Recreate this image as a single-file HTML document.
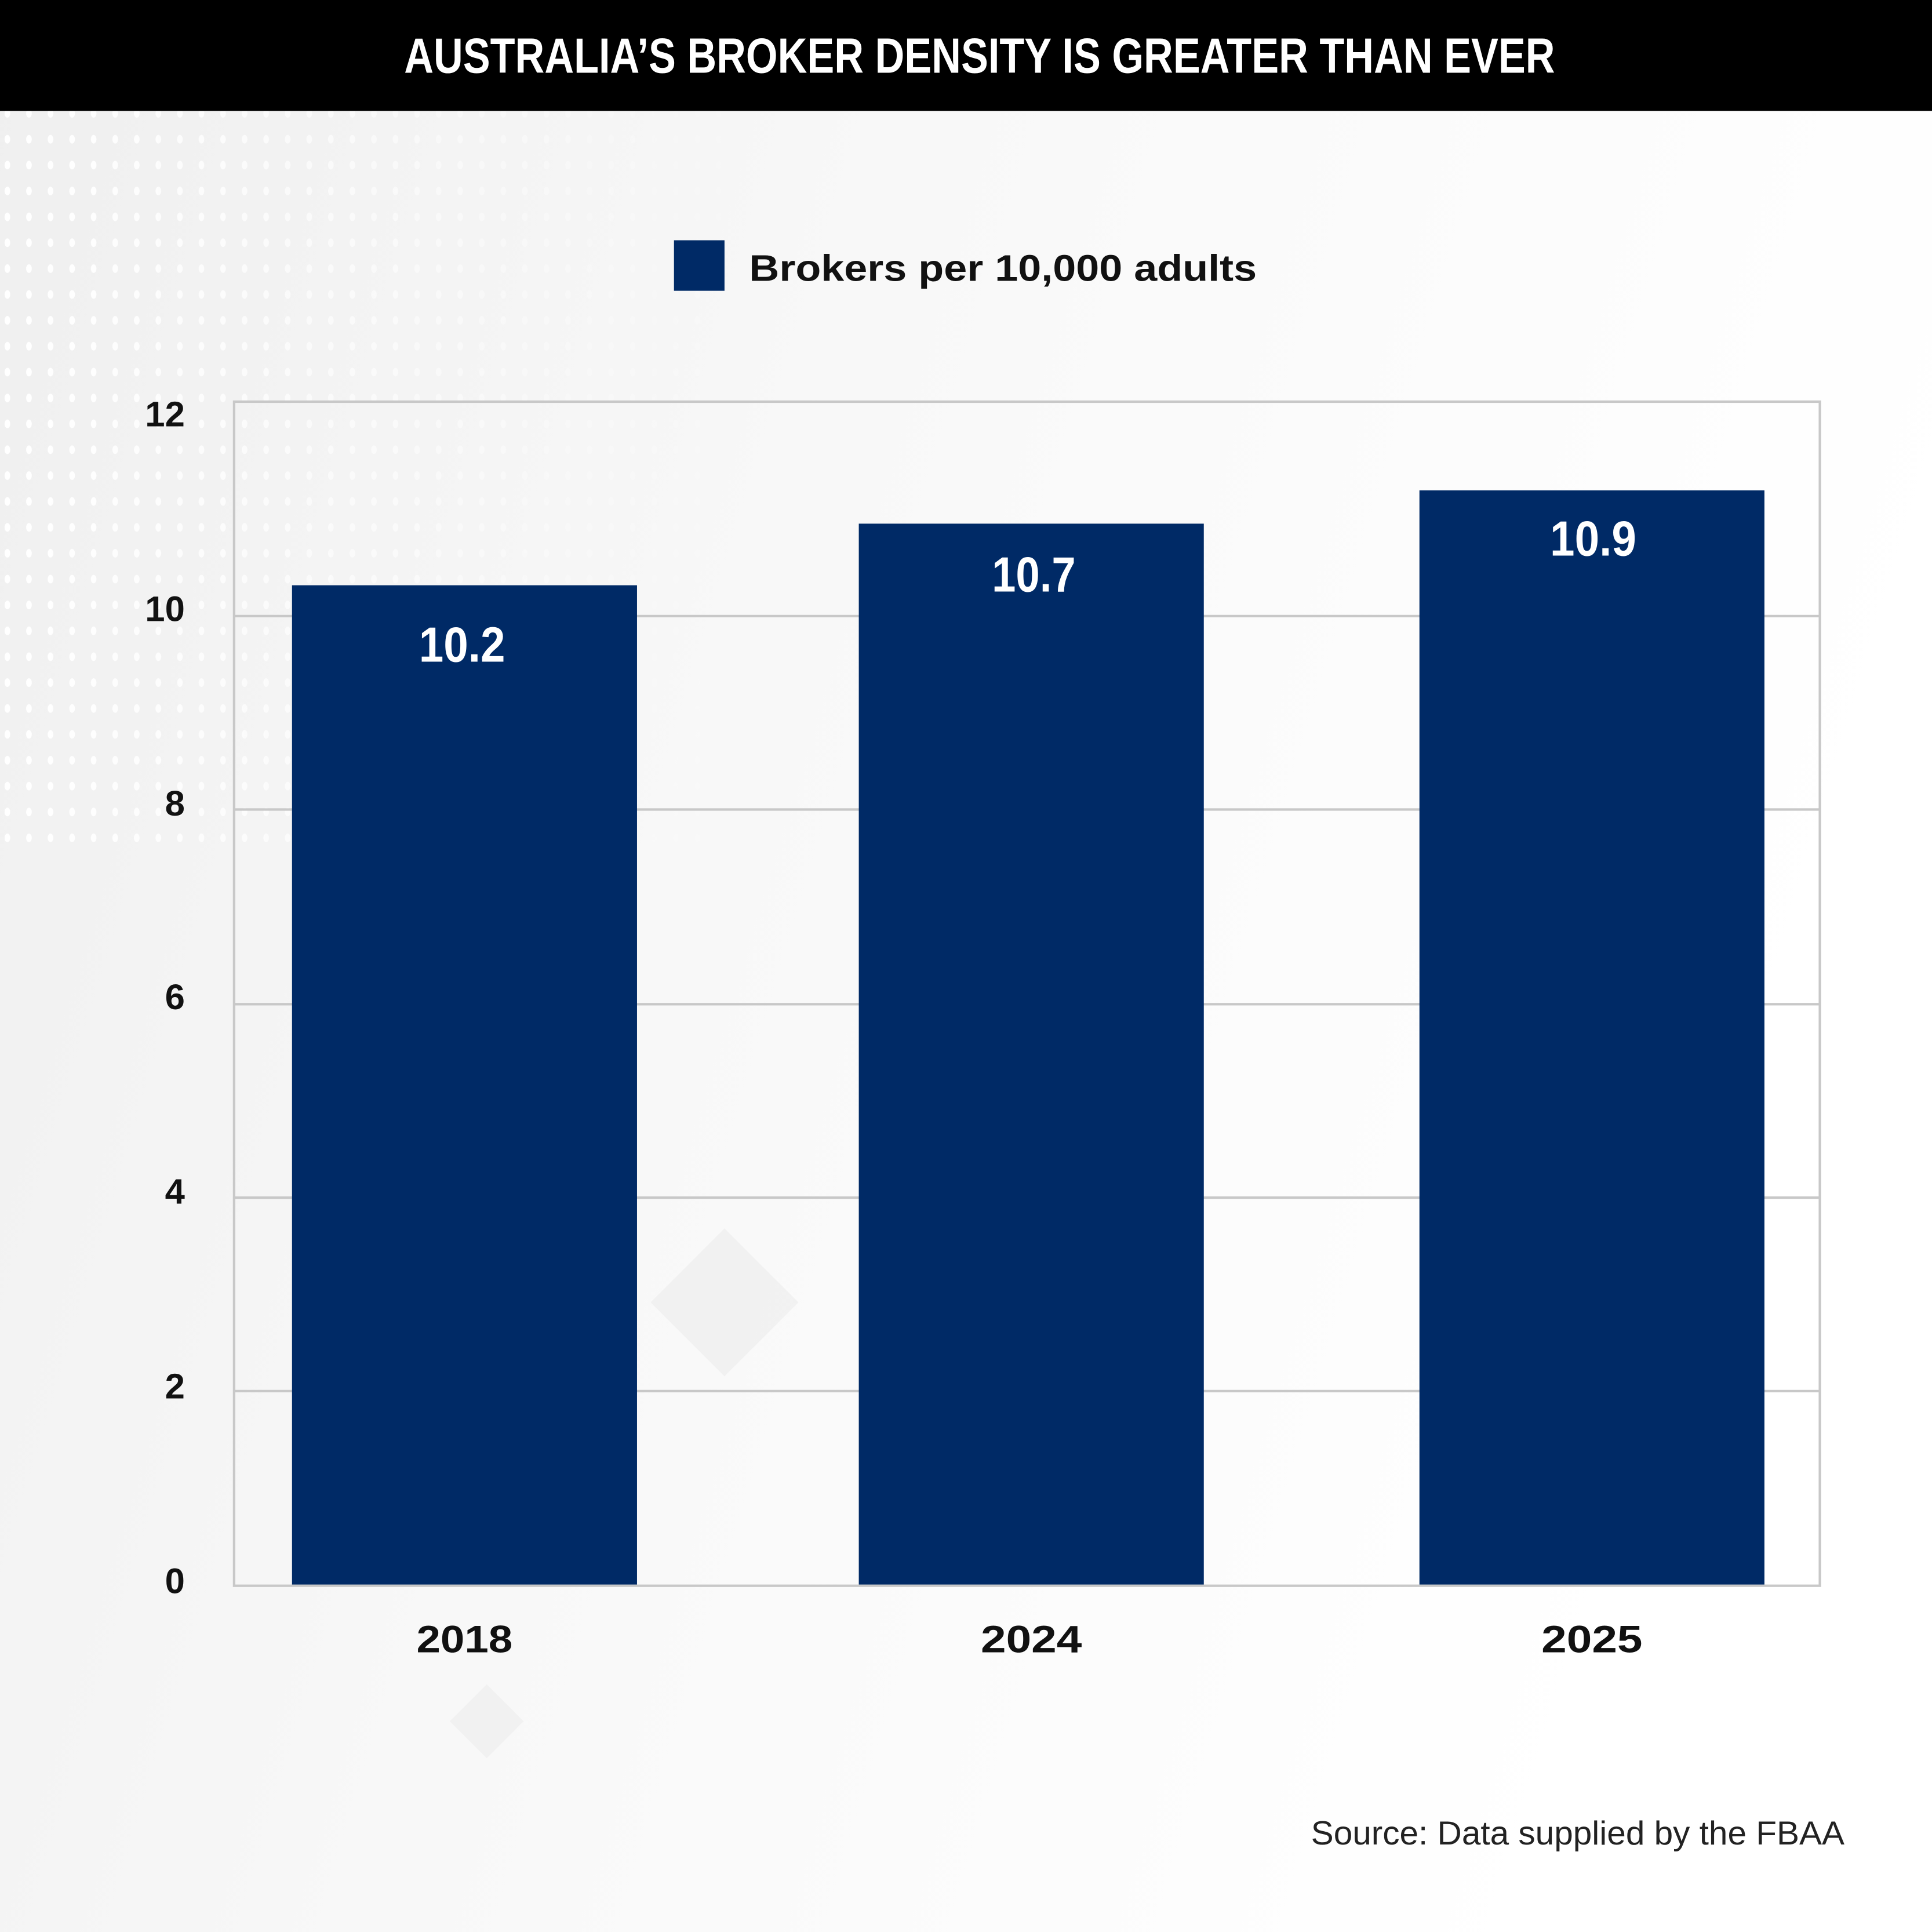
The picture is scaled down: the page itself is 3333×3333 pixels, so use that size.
<!DOCTYPE html>
<html><head><meta charset="utf-8"><style>html,body{margin:0;padding:0;background:#fff}svg{display:block}</style></head>
<body>
<svg xmlns="http://www.w3.org/2000/svg" width="3333" height="3333" viewBox="0 0 1568 1568">
<defs>
<linearGradient id="bg" x1="0" y1="0" x2="1" y2="0.3">
<stop offset="0" stop-color="#efefef"/><stop offset="0.45" stop-color="#f8f8f8"/><stop offset="1" stop-color="#ffffff"/>
</linearGradient>
<pattern id="dots" width="17.5" height="21" patternUnits="userSpaceOnUse"><ellipse cx="6" cy="8" rx="2.3" ry="3.5" fill="#ffffff"/></pattern>
<linearGradient id="fade" x1="0" y1="0" x2="1" y2="0"><stop offset="0" stop-color="#fff" stop-opacity="1"/><stop offset="1" stop-color="#fff" stop-opacity="0"/></linearGradient>
<mask id="m"><rect x="0" y="90" width="650" height="600" fill="url(#fade)"/></mask>
</defs>
<rect width="1568" height="1568" fill="url(#bg)"/>
<rect x="0" y="90" width="650" height="600" fill="url(#dots)" mask="url(#m)"/>
<g fill="#eeeeee" opacity="0.7">
<polygon points="588,997 648,1057 588,1117 528,1057"/>
<polygon points="395,1367 425,1397 395,1427 365,1397"/>
</g>
<rect x="0" y="0" width="1568" height="90" fill="#000"/>
<text x="795" y="59" fill="#fff" font-family="Liberation Sans Narrow, Liberation Sans, sans-serif" font-weight="bold" font-size="40" text-anchor="middle" textLength="934" lengthAdjust="spacingAndGlyphs">AUSTRALIA’S BROKER DENSITY IS GREATER THAN EVER</text>
<rect x="547" y="195" width="41" height="41" fill="#002a66"/>
<text x="608" y="228" font-family="Liberation Sans, sans-serif" font-weight="bold" font-size="30" fill="#111" textLength="412" lengthAdjust="spacingAndGlyphs">Brokers per 10,000 adults</text>
<rect x="190" y="326" width="1287" height="961" fill="none" stroke="#c8c8c8" stroke-width="2"/>
<g stroke="#c8c8c8" stroke-width="2">
<line x1="190" y1="500" x2="1477" y2="500"/>
<line x1="190" y1="657" x2="1477" y2="657"/>
<line x1="190" y1="815" x2="1477" y2="815"/>
<line x1="190" y1="972" x2="1477" y2="972"/>
<line x1="190" y1="1129" x2="1477" y2="1129"/>
</g>
<g fill="#002a66">
<rect x="237" y="475" width="280" height="811"/>
<rect x="697" y="425" width="280" height="861"/>
<rect x="1152" y="398" width="280" height="888"/>
</g>
<g font-family="Liberation Sans Narrow, Liberation Sans, sans-serif" font-weight="bold" font-size="40" fill="#fff" text-anchor="middle">
<text x="375" y="537" textLength="70" lengthAdjust="spacingAndGlyphs">10.2</text>
<text x="839" y="480" textLength="68" lengthAdjust="spacingAndGlyphs">10.7</text>
<text x="1293" y="451" textLength="70" lengthAdjust="spacingAndGlyphs">10.9</text>
</g>
<g font-family="Liberation Sans, sans-serif" font-weight="bold" font-size="29" fill="#111" text-anchor="end">
<text x="150" y="346">12</text>
<text x="150" y="504">10</text>
<text x="150" y="662">8</text>
<text x="150" y="819">6</text>
<text x="150" y="977">4</text>
<text x="150" y="1135">2</text>
<text x="150" y="1293">0</text>
</g>
<g font-family="Liberation Sans, sans-serif" font-weight="bold" font-size="31" fill="#111" text-anchor="middle">
<text x="377" y="1341" textLength="78" lengthAdjust="spacingAndGlyphs">2018</text>
<text x="837" y="1341" textLength="82" lengthAdjust="spacingAndGlyphs">2024</text>
<text x="1292" y="1341" textLength="82" lengthAdjust="spacingAndGlyphs">2025</text>
</g>
<text x="1497" y="1497" font-family="Liberation Sans, sans-serif" font-size="27" fill="#222" text-anchor="end" textLength="433" lengthAdjust="spacingAndGlyphs">Source: Data supplied by the FBAA</text>
</svg>
</body></html>
